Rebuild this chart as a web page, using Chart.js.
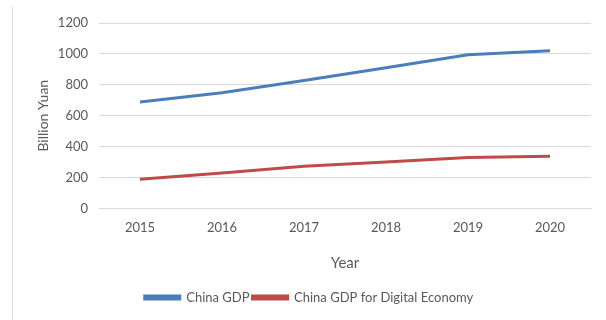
<!DOCTYPE html>
<html>
<head>
<meta charset="utf-8">
<script src="https://cdn.jsdelivr.net/npm/chart.js@4"></script>
<style>
  html, body { margin:0; padding:0; background:#fff; }
  #wrap { position:relative; width:606px; height:320px; }
  #edge { position:absolute; left:12px; top:7px; bottom:0; border-left:1px solid #d9d9d9; }
</style>
</head>
<body>
<div id="wrap">
  <div id="edge"></div>
  <canvas id="gdpChart" width="606" height="320"></canvas>
</div>
<script>
// ====== data ======
const years      = ["2015", "2016", "2017", "2018", "2019", "2020"];
const chinaGdp   = [688, 748, 828, 910, 995, 1020];
const digitalGdp = [188, 229, 273, 300, 330, 338];
const yTicks     = [0, 200, 400, 600, 800, 1000, 1200];

const TXT = "#595959";
const FONT = "Lato, 'Open Sans', sans-serif";

new Chart(document.getElementById("gdpChart"), {
  type: "line",
  data: {
    labels: years,
    datasets: [
      { label: "China GDP", data: chinaGdp, borderColor: "#4a7ebb", backgroundColor: "#4a7ebb",
        borderWidth: 3, pointRadius: 0, tension: 0 },
      { label: "China GDP for Digital Economy", data: digitalGdp, borderColor: "#be4b48", backgroundColor: "#be4b48",
        borderWidth: 3, pointRadius: 0, tension: 0 }
    ]
  },
  options: {
    responsive: false,
    animation: false,
    // left padding keeps the legend centred where the original has it
    layout: { padding: { top: 23, right: 15, left: 27, bottom: 6 } },
    plugins: {
      legend: {
        position: "bottom",
        labels: { color: TXT, font: { family: FONT, size: 13 }, boxWidth: 35, boxHeight: 3, padding: 3 }
      },
      tooltip: { enabled: false }
    },
    scales: {
      x: {
        offset: true,
        grid: { display: false, drawTicks: false },
        border: { color: "#d9d9d9" },
        ticks: { color: TXT, font: { family: FONT, size: 13 }, padding: 12 },
        title: { display: true, text: "Year", color: TXT, font: { family: FONT, size: 15 }, padding: { top: 6, bottom: 16 } }
      },
      y: {
        min: 0, max: 1200,
        afterBuildTicks: s => { s.ticks = yTicks.map(v => ({ value: v })); },
        afterFit: s => { s.width = 72; },
        grid: { color: "#d9d9d9", drawTicks: false },
        border: { display: false },
        ticks: { color: TXT, font: { family: FONT, size: 13 }, padding: 11, callback: v => String(v) },
        title: { display: true, text: "Billion Yuan", color: TXT, font: { family: FONT, size: 14 }, padding: { top: 8, bottom: 0 } }
      }
    }
  }
});
</script>
</body>
</html>
